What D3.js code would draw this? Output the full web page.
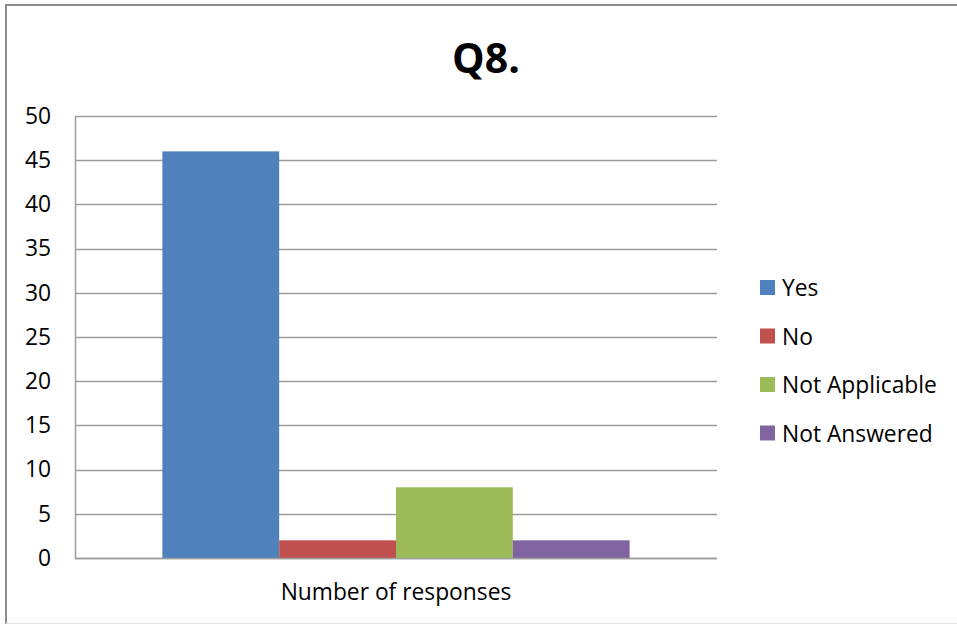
<!DOCTYPE html>
<html>
<head>
<meta charset="utf-8">
<script src="https://cdn.jsdelivr.net/npm/d3@7"></script>
<style>
  html, body { margin: 0; padding: 0; background: #fff; }
  svg { display: block; font-family: "Open Sans", "Noto Sans", sans-serif; }
</style>
</head>
<body>
<svg id="chart" width="957" height="624"></svg>
<script>
// Survey results for question 8
const categories = ["Number of responses"];
const seriesNames = ["Yes", "No", "Not Applicable", "Not Answered"];
const seriesValues = [46, 2, 8, 2];
const seriesColors = ["#4F81BD", "#C0504D", "#9BBB59", "#8064A2"];
const yTicks = [0, 5, 10, 15, 20, 25, 30, 35, 40, 45, 50];
const title = "Q8.";

const svg = d3.select("#chart");
const W = 957, H = 624;
const FS = 22.8;

// outer chart frame: left and top edges, faint bottom edge
svg.append("path")
  .attr("d", `M6,${H} V5 H${W}`)
  .attr("fill", "none").attr("stroke", "#8c8c8c").attr("stroke-width", 2);
svg.append("line")
  .attr("x1", 6).attr("x2", W).attr("y1", H - 0.5).attr("y2", H - 0.5)
  .attr("stroke", "#e4e4e4").attr("stroke-width", 1);

const plot = { left: 75, right: 717, top: 116, bottom: 558 };

const y = d3.scaleLinear().domain([0, 50]).range([plot.bottom, plot.top]);
const x0 = d3.scaleBand().domain(categories)
  .range([plot.left, plot.right]).paddingInner(0).paddingOuter(0.187);
const x1 = d3.scaleBand().domain(seriesNames)
  .range([0, x0.bandwidth()]).padding(0);

// horizontal gridlines
svg.append("g")
  .selectAll("line").data(yTicks).join("line")
  .attr("x1", plot.left).attr("x2", plot.right)
  .attr("y1", d => Math.round(y(d)) + 0.5).attr("y2", d => Math.round(y(d)) + 0.5)
  .attr("stroke", "#9d9d9d").attr("stroke-width", 1.5);

// y axis
const yAxis = d3.axisLeft(y).tickValues(yTicks).tickSize(0).tickPadding(0);
const gy = svg.append("g").attr("transform", `translate(${plot.left},0)`).call(yAxis);
gy.select(".domain").attr("stroke", "#9d9d9d").attr("stroke-width", 1.5);
gy.selectAll("text")
  .attr("x", -24).attr("text-anchor", "end")
  .attr("font-size", FS).attr("fill", "#000")
  .attr("font-family", "'Open Sans', sans-serif");

// bars
const group = svg.append("g").attr("transform", `translate(${x0(categories[0])},0)`);
group.selectAll("rect").data(seriesNames.map((n, i) => ({ n, v: seriesValues[i], c: seriesColors[i] })))
  .join("rect")
  .attr("x", d => x1(d.n))
  .attr("width", x1.bandwidth())
  .attr("y", d => y(d.v))
  .attr("height", d => y(0) - y(d.v))
  .attr("fill", d => d.c);

// x axis baseline and category label
svg.append("line")
  .attr("x1", plot.left).attr("x2", plot.right)
  .attr("y1", plot.bottom + 0.5).attr("y2", plot.bottom + 0.5)
  .attr("stroke", "#9d9d9d").attr("stroke-width", 1.5);
svg.append("g").selectAll("text").data(categories).join("text")
  .attr("x", d => x0(d) + x0.bandwidth() / 2)
  .attr("y", 600)
  .attr("text-anchor", "middle")
  .attr("font-size", FS).attr("fill", "#000")
  .text(d => d);

// title
svg.append("text")
  .attr("x", 486).attr("y", 73)
  .attr("text-anchor", "middle")
  .attr("font-size", 41).attr("font-weight", "bold").attr("fill", "#000")
  .text(title);

// legend
const legend = svg.append("g").selectAll("g").data(seriesNames).join("g")
  .attr("transform", (d, i) => `translate(760, ${280 + i * 48.5})`);
legend.append("rect")
  .attr("width", 15).attr("height", 15)
  .attr("fill", (d, i) => seriesColors[i]);
legend.append("text")
  .attr("x", 22).attr("y", 16)
  .attr("font-size", FS).attr("fill", "#000")
  .text(d => d);
</script>
</body>
</html>
